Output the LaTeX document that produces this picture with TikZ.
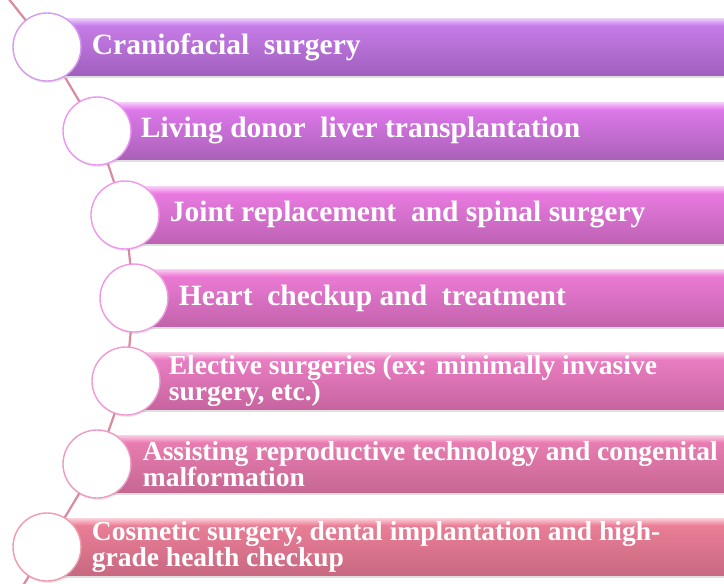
\documentclass[tikz,border=0pt]{standalone}
\usepackage{fontspec}
\setmainfont{Liberation Serif}
\usetikzlibrary{shadows}
\definecolor{btA}{HTML}{CB80EC}\definecolor{bbA}{HTML}{A05FBE}
\definecolor{btB}{HTML}{E47CEF}\definecolor{bbB}{HTML}{AA60BA}
\definecolor{btC}{HTML}{EE7DE6}\definecolor{bbC}{HTML}{BE62B4}
\definecolor{btD}{HTML}{EF7DD8}\definecolor{bbD}{HTML}{C363AC}
\definecolor{btE}{HTML}{EE80C6}\definecolor{bbE}{HTML}{C7649F}
\definecolor{btF}{HTML}{EC7FB4}\definecolor{bbF}{HTML}{C66792}
\definecolor{btG}{HTML}{EE8199}\definecolor{bbG}{HTML}{C86881}
\definecolor{linkcol}{HTML}{D98A9E}
\begin{document}
\begin{tikzpicture}[x=1pt,y=-1pt,
  circ/.style={circle,fill=white,minimum size=68pt,inner sep=0pt,line width=1.4pt,
    drop shadow={opacity=0.18,shadow xshift=1pt,shadow yshift=-2pt}},
  label/.style={anchor=west,text=white,align=left,inner sep=0pt,
    font=\bfseries\fontsize{29.5}{30}\selectfont},
  label2/.style={label,font=\bfseries\fontsize{27.5}{26}\selectfont},
  link/.style={draw=linkcol,line width=2.2pt}]
\useasboundingbox (0,0) rectangle (724,584);
\clip (0,0) rectangle (724,584);
\coordinate (top) at (8,-2);
\coordinate (bot) at (14,600);
\foreach \i/\cx/\cy in {A/47/47,B/97/131,C/125/215,D/134/298,E/126/381,F/97/464,G/47/547}{
  \coordinate (p\i) at (\cx,\cy);
}
\draw[link] (top) -- (pA) -- (pB) -- (pC) -- (pD) -- (pE) -- (pF) -- (pG) -- (bot);
\foreach \i/\cx/\cy in {A/47/47,B/97/131,C/125/215,D/134/298,E/126/381,F/97/464,G/47/547}{
  \fill[black!12] (\cx,\cy+28.5) rectangle (740,\cy+31);
  \shade[top color=bt\i, bottom color=bb\i] (\cx,\cy-28.5) rectangle (740,\cy+28.5);
  \shade[top color=bt\i!40!white, bottom color=bt\i] (\cx,\cy-28.5) rectangle (740,\cy-22);
  \node[circ,draw=bt\i!80!white] (c\i) at (\cx,\cy) {};
}
\node[label] (tA) at ([xshift=10pt]cA.east) {Craniofacial\ \ surgery};
\node[label] (tB) at ([xshift=9pt]cB.east) {Living donor\ \ liver transplantation};
\node[label] (tC) at ([xshift=10pt]cC.east) {Joint replacement\ \ and spinal surgery};
\node[label] (tD) at ([xshift=10pt]cD.east) {Heart\ \ checkup and\ \ treatment};
\node[label2] (tE) at ([xshift=8pt]cE.east) {Elective surgeries (ex: minimally invasive\\surgery, etc.)};
\node[label2] (tF) at ([xshift=11pt]cF.east) {Assisting reproductive technology and congenital\\malformation};
\node[label2] (tG) at ([xshift=10pt]cG.east) {Cosmetic surgery, dental implantation and high-\\grade health checkup};
\end{tikzpicture}
\end{document}
